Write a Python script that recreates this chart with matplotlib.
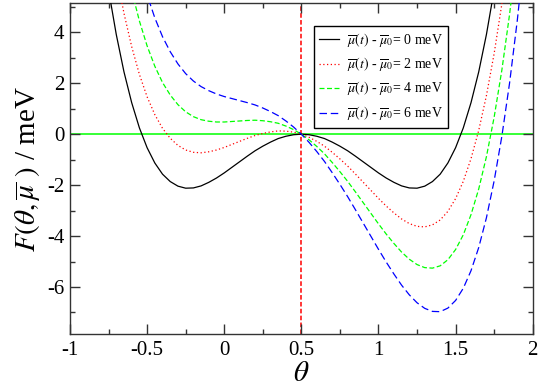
import matplotlib
matplotlib.use('Agg')
import matplotlib.pyplot as plt
from matplotlib.ticker import MultipleLocator, FormatStrFormatter

plt.rcParams['font.family'] = ['Liberation Serif', 'DejaVu Serif']
plt.rcParams['mathtext.fontset'] = 'stix'
plt.rcParams['axes.unicode_minus'] = False

# theta grid (sample positions)
theta = [-0.80, -0.75, -0.70, -0.65, -0.60, -0.55, -0.50, -0.45, -0.40, -0.35,
         -0.30, -0.25, -0.20, -0.15, -0.10, -0.05, 0.00, 0.05, 0.10, 0.15,
         0.20, 0.25, 0.30, 0.35, 0.40, 0.45, 0.50, 0.55, 0.60, 0.65,
         0.70, 0.75, 0.80, 0.85, 0.90, 0.95, 1.00, 1.05, 1.10, 1.15,
         1.20, 1.25, 1.30, 1.35, 1.40, 1.45, 1.50, 1.55, 1.60, 1.65,
         1.70, 1.75, 1.80, 1.85, 1.90, 1.95]

# F(theta) in meV for mu(t) - mu0 = 0, 2, 4, 6 meV
f_0meV = [7.72, 5.67, 3.92, 2.45, 1.24, 0.25, -0.53, -1.13, -1.57, -1.86,
          -2.04, -2.12, -2.11, -2.03, -1.89, -1.72, -1.52, -1.30, -1.08, -0.86,
          -0.65, -0.47, -0.31, -0.17, -0.08, -0.02, 0.00, -0.02, -0.08, -0.17,
          -0.31, -0.47, -0.65, -0.86, -1.08, -1.30, -1.52, -1.72, -1.89, -2.03,
          -2.11, -2.12, -2.04, -1.86, -1.57, -1.13, -0.53, 0.25, 1.24, 2.45,
          3.92, 5.67, 7.72, 10.11, 12.87, 16.02]
f_2meV = [10.32, 8.17, 6.32, 4.75, 3.44, 2.35, 1.47, 0.77, 0.23, -0.16,
          -0.44, -0.62, -0.71, -0.73, -0.69, -0.62, -0.52, -0.40, -0.28, -0.16,
          -0.05, 0.03, 0.09, 0.13, 0.12, 0.08, 0.00, -0.12, -0.28, -0.47,
          -0.71, -0.97, -1.25, -1.56, -1.88, -2.20, -2.52, -2.82, -3.09, -3.33,
          -3.51, -3.62, -3.64, -3.56, -3.37, -3.03, -2.53, -1.85, -0.96, 0.15,
          1.52, 3.17, 5.12, 7.41, 10.07, 13.12]
f_4meV = [12.92, 10.67, 8.72, 7.05, 5.64, 4.45, 3.47, 2.67, 2.03, 1.54,
          1.16, 0.88, 0.69, 0.57, 0.51, 0.48, 0.48, 0.50, 0.52, 0.54,
          0.55, 0.53, 0.49, 0.43, 0.32, 0.18, 0.00, -0.22, -0.48, -0.77,
          -1.11, -1.47, -1.85, -2.26, -2.68, -3.10, -3.52, -3.92, -4.29, -4.63,
          -4.91, -5.12, -5.24, -5.26, -5.17, -4.93, -4.53, -3.95, -3.16, -2.15,
          -0.88, 0.67, 2.52, 4.71, 7.27, 10.22]
f_6meV = [15.52, 13.17, 11.12, 9.35, 7.84, 6.55, 5.47, 4.57, 3.83, 3.24,
          2.76, 2.38, 2.09, 1.87, 1.71, 1.58, 1.48, 1.40, 1.32, 1.24,
          1.15, 1.03, 0.89, 0.73, 0.52, 0.28, 0.00, -0.32, -0.68, -1.07,
          -1.51, -1.97, -2.45, -2.96, -3.48, -4.00, -4.52, -5.02, -5.49, -5.93,
          -6.31, -6.62, -6.84, -6.96, -6.97, -6.83, -6.53, -6.05, -5.36, -4.45,
          -3.28, -1.83, -0.08, 2.01, 4.47, 7.32]

labels = [r'$\overline{\mu}(t)$ - $\overline{\mu}_0$= 0 meV',
          r'$\overline{\mu}(t)$ - $\overline{\mu}_0$= 2 meV',
          r'$\overline{\mu}(t)$ - $\overline{\mu}_0$= 4 meV',
          r'$\overline{\mu}(t)$ - $\overline{\mu}_0$= 6 meV']

fig = plt.figure(figsize=(5.4, 3.88), dpi=100)
ax = fig.add_axes([0.1296, 0.139, 0.8569, 0.853])

ax.axhline(0, color='#00ff00', linewidth=1.1, zorder=1)
ax.axvline(0.5, color='#ff0000', linewidth=1.1, linestyle=(0, (3, 1.5)), zorder=1)

ax.plot(theta, f_0meV, color='black', linewidth=0.9, label=labels[0], zorder=3)
ax.plot(theta, f_2meV, color='red', linewidth=0.9, linestyle=(0, (1, 2)), label=labels[1], zorder=3)
ax.plot(theta, f_4meV, color='#00ff00', linewidth=0.9, linestyle=(0, (4, 2)), label=labels[2], zorder=3)
ax.plot(theta, f_6meV, color='blue', linewidth=0.9, linestyle=(0, (6, 3)), label=labels[3], zorder=3)

ax.set_xlim(-1, 2)
ax.set_ylim(-7.85, 5.15)
ax.xaxis.set_major_locator(MultipleLocator(0.5))
ax.xaxis.set_minor_locator(MultipleLocator(0.25))
ax.yaxis.set_major_locator(MultipleLocator(2))
ax.yaxis.set_minor_locator(MultipleLocator(1))
ax.xaxis.set_major_formatter(FormatStrFormatter('%g'))
ax.yaxis.set_major_formatter(FormatStrFormatter('%g'))
ax.tick_params(which='both', direction='in', top=True, right=True, labelsize=15, color='#333333')
ax.tick_params(which='major', length=7, width=1)
ax.tick_params(which='minor', length=3.5, width=1)
ax.tick_params(axis='x', pad=5)
ax.tick_params(axis='y', pad=4)
for sp in ax.spines.values():
    sp.set_linewidth(1.0)
    sp.set_color('#333333')

ax.set_xlabel(r'$\theta$', fontsize=21, labelpad=1)
ax.set_ylabel(r'$F(\theta,\overline{\mu}\ )$ / meV', fontsize=21, labelpad=3)

leg = ax.legend(loc='upper right', bbox_to_anchor=(0.817, 0.931), borderaxespad=0,
                fontsize=10, handlelength=1.45, handletextpad=0.6, labelspacing=0.4,
                borderpad=0.35, fancybox=False, edgecolor='black', framealpha=1)
leg.get_frame().set_linewidth(1.0)

plt.savefig('out.png', dpi=100)
